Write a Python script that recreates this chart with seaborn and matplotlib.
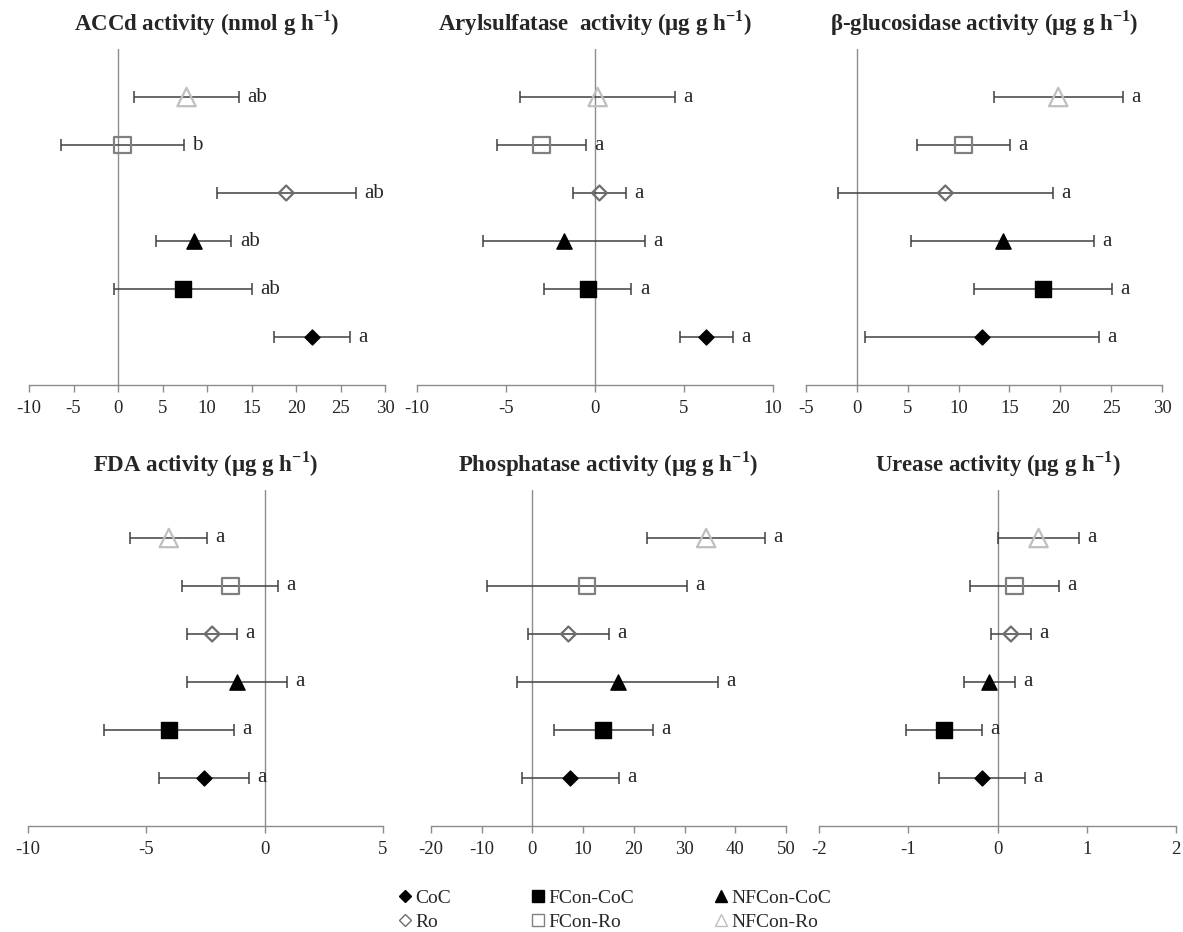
import numpy as np
import pandas as pd
import matplotlib
matplotlib.use('Agg')
import matplotlib.pyplot as plt
import seaborn as sns
from matplotlib.lines import Line2D

# treatments, bottom row first
treatments = ['CoC', 'FCon-CoC', 'NFCon-CoC', 'Ro', 'FCon-Ro', 'NFCon-Ro']

titles = ['ACCd activity (nmol g h$^{\\mathbf{-1}}$)',
          'Arylsulfatase  activity (\u00b5g g h$^{\\mathbf{-1}}$)',
          '\u03b2-glucosidase activity (\u00b5g g h$^{\\mathbf{-1}}$)',
          'FDA activity (\u00b5g g h$^{\\mathbf{-1}}$)',
          'Phosphatase activity (\u00b5g g h$^{\\mathbf{-1}}$)',
          'Urease activity (\u00b5g g h$^{\\mathbf{-1}}$)']

# means and errors, order = treatments
accd_mean = [21.8, 7.3, 8.5, 18.9, 0.5, 7.7]
accd_err = [4.25, 7.8, 4.25, 7.8, 6.9, 5.9]
accd_letters = ['a', 'ab', 'ab', 'ab', 'b', 'ab']

aryl_mean = [6.25, -0.4, -1.75, 0.25, -3.0, 0.15]
aryl_err = [1.5, 2.45, 4.55, 1.5, 2.5, 4.35]
aryl_letters = ['a', 'a', 'a', 'a', 'a', 'a']

gluc_mean = [12.3, 18.3, 14.35, 8.7, 10.5, 19.8]
gluc_err = [11.5, 6.8, 9.0, 10.6, 4.55, 6.35]
gluc_letters = ['a', 'a', 'a', 'a', 'a', 'a']

fda_mean = [-2.57, -4.04, -1.17, -2.22, -1.45, -4.05]
fda_err = [1.9, 2.75, 2.13, 1.05, 2.03, 1.63]
fda_letters = ['a', 'a', 'a', 'a', 'a', 'a']

phos_mean = [7.5, 14.0, 16.8, 7.1, 10.8, 34.25]
phos_err = [9.5, 9.8, 19.8, 8.0, 19.7, 11.65]
phos_letters = ['a', 'a', 'a', 'a', 'a', 'a']

urea_mean = [-0.17, -0.6, -0.09, 0.15, 0.19, 0.46]
urea_err = [0.48, 0.43, 0.29, 0.22, 0.5, 0.45]
urea_letters = ['a', 'a', 'a', 'a', 'a', 'a']

xlims = [(-10, 30), (-10, 10), (-5, 30), (-10, 5), (-20, 50), (-2, 2)]
xsteps = [5, 5, 5, 5, 10, 1]

panels = [(accd_mean, accd_err, accd_letters),
          (aryl_mean, aryl_err, aryl_letters),
          (gluc_mean, gluc_err, gluc_letters),
          (fda_mean, fda_err, fda_letters),
          (phos_mean, phos_err, phos_letters),
          (urea_mean, urea_err, urea_letters)]

# marker styles
styles = {
    'CoC': dict(marker='D', s=58, facecolor='black', edgecolor='black', linewidth=1),
    'FCon-CoC': dict(marker='s', s=135, facecolor='black', edgecolor='black', linewidth=1),
    'NFCon-CoC': dict(marker='^', s=120, facecolor='black', edgecolor='black', linewidth=1),
    'Ro': dict(marker='D', s=58, facecolor='none', edgecolor='#6e6e6e', linewidth=1.6),
    'FCon-Ro': dict(marker='s', s=140, facecolor='none', edgecolor='#808080', linewidth=1.6),
    'NFCon-Ro': dict(marker='^', s=175, facecolor='none', edgecolor='#bfbfbf', linewidth=1.6),
}

sns.set_style('white')
plt.rcParams['font.family'] = ['Liberation Serif', 'DejaVu Serif']
plt.rcParams['mathtext.fontset'] = 'custom'
plt.rcParams['mathtext.rm'] = 'Liberation Serif'
plt.rcParams['mathtext.bf'] = 'Liberation Serif:bold'

fig = plt.figure(figsize=(11.83, 9.32), dpi=100)

W, H = 1183.0, 932.0
boxes = [(29, 385, 49, 385), (417, 773, 49, 385), (806, 1162, 49, 385),
         (28, 383, 490, 826), (431, 786, 490, 826), (819, 1176, 490, 826)]

for i, (mean, err, letters) in enumerate(panels):
    x0, x1, y0, y1 = boxes[i]
    ax = fig.add_axes([x0 / W, 1 - y1 / H, (x1 - x0) / W, (y1 - y0) / H])
    df = pd.DataFrame({'treatment': treatments, 'mean': mean, 'err': err,
                       'pos': np.arange(1, 7), 'letter': letters})
    ax.axvline(0, color='#8c8c8c', lw=1, zorder=1)
    ax.errorbar(df['mean'], df['pos'], xerr=df['err'], fmt='none',
                ecolor='#404040', elinewidth=1.1, capsize=4.5, capthick=1.1, zorder=2)
    for _, row in df.iterrows():
        st = styles[row['treatment']]
        sns.scatterplot(x=[row['mean']], y=[row['pos']], ax=ax, zorder=3, legend=False, **st)
        ax.annotate(row['letter'], (row['mean'] + row['err'], row['pos']),
                    xytext=(6, 0), textcoords='offset points', va='center', ha='left',
                    fontsize=15)
    lo, hi = xlims[i]
    ax.set_xlim(lo, hi)
    ax.set_ylim(0, 7)
    ax.set_xticks(np.arange(lo, hi + xsteps[i] / 2, xsteps[i]))
    ax.set_xticklabels([str(int(v)) for v in ax.get_xticks()])
    ax.set_yticks([])
    ax.set_xlabel('')
    ax.set_ylabel('')
    for sp in ['top', 'right', 'left']:
        ax.spines[sp].set_visible(False)
    ax.spines['bottom'].set_color('#8c8c8c')
    ax.spines['bottom'].set_linewidth(1)
    ax.tick_params(axis='x', direction='out', length=5, width=1, color='#8c8c8c',
                   labelsize=13.5, pad=6, bottom=True)
    ax.set_title(titles[i], fontsize=16.5, fontweight='bold', pad=13)
    ax.set_facecolor('none')

# legend
handles = []
for t in ['CoC', 'Ro', 'FCon-CoC', 'FCon-Ro', 'NFCon-CoC', 'NFCon-Ro']:
    st = styles[t]
    ms = {'D': 6, 's': 9, '^': 9}[st['marker']]
    handles.append(Line2D([], [], linestyle='none', marker=st['marker'], markersize=ms,
                          markerfacecolor=st['facecolor'], markeredgecolor=st['edgecolor'],
                          markeredgewidth=1, label=t))
fig.legend(handles=handles, ncol=3, loc='center', bbox_to_anchor=(0.52, 0.0235),
           frameon=False, fontsize=14, handlelength=0.6, handletextpad=0.2,
           columnspacing=4.2, labelspacing=0.35, borderpad=0.2)

fig.savefig('out.png', dpi=100)
